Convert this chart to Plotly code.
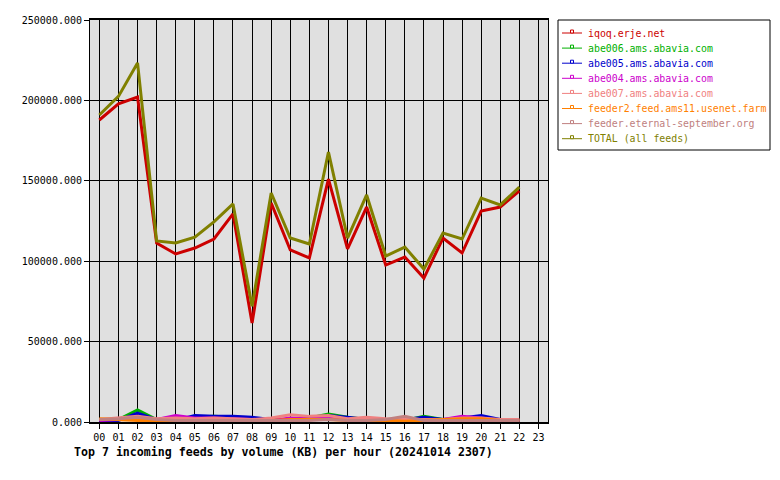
import plotly.graph_objects as go

hours = list(range(24))
hour_labels = ["%02d" % h for h in hours]
x = list(range(23))  # data hours 00..22

iqoq = [187800, 197800, 202100, 111300, 104500, 108200, 113800, 129400, 61500, 136200,
        107000, 102000, 151100, 107600, 133700, 97600, 102600, 89500, 114400, 105100,
        131200, 133700, 143700]
abe006 = [1500, 1500, 7500, 1500, 1000, 3000, 3500, 3000, 2000, 1000, 1500, 2500, 5000,
          3000, 1500, 1000, 1000, 3500, 1500, 1000, 1500, 1000, 500]
abe005 = [1000, 1000, 5500, 1500, 1000, 4000, 3500, 3500, 3000, 1500, 1000, 2000, 4000,
          3000, 1500, 1000, 1500, 3000, 1500, 2500, 4000, 1500, 500]
abe004 = [1000, 1500, 3000, 1500, 4000, 2500, 2500, 2000, 1500, 1000, 2500, 2000, 2500,
          1500, 1500, 1000, 1000, 1500, 1500, 3500, 2500, 1000, 500]
abe007 = [1500, 2500, 3500, 2000, 2500, 2000, 2500, 2000, 1500, 2500, 4500, 3500, 4000,
          2000, 3000, 2000, 1500, 1500, 1500, 2500, 2500, 1500, 1500]
feeder2 = [2000, 1500, 1000, 1000, 1000, 1000, 1000, 1000, 1000, 1000, 1500, 1500, 1500,
           1000, 1000, 1000, 500, 1000, 1500, 2000, 2000, 1000, 1000]
eternal = [1500, 2000, 3000, 1500, 1000, 1000, 1000, 1000, 1000, 1000, 1000, 1000, 1500,
           1000, 1000, 1500, 3500, 1000, 1000, 1000, 1000, 1000, 1000]
total = [190900, 202500, 223300, 112600, 111300, 115000, 124400, 135600, 72000, 142400,
         114400, 110700, 167900, 114400, 141200, 103200, 108800, 95100, 117500, 113800,
         139300, 135000, 146100]

names = ["iqoq.erje.net", "abe006.ams.abavia.com", "abe005.ams.abavia.com",
         "abe004.ams.abavia.com", "abe007.ams.abavia.com", "feeder2.feed.ams11.usenet.farm",
         "feeder.eternal-september.org", "TOTAL (all feeds)"]
colors = ["#cc0000", "#00b000", "#0000cc", "#cc00cc", "#f08080", "#ff8000", "#c08080", "#808000"]
values = [iqoq, abe006, abe005, abe004, abe007, feeder2, eternal, total]

MONO = "DejaVu Sans Mono"
W, H = 780, 480
L, R, T, B = 90, 232, 20, 58
PW, PH = W - L - R, H - T - B


def px(xp):
    return (xp - L) / PW


def py(yp):
    return (H - B - yp) / PH


fig = go.Figure()
for name, vals, col in zip(names, values, colors):
    fig.add_trace(go.Scatter(x=x, y=vals, name=name, mode="lines",
                             line=dict(color=col, width=3), showlegend=False))

fig.update_layout(
    width=W, height=H,
    margin=dict(l=L, r=R, t=T, b=B, pad=0, autoexpand=False),
    paper_bgcolor="white", plot_bgcolor="#e0e0e0",
    font=dict(family=MONO, size=10, color="black"),
    showlegend=False,
)
fig.update_xaxes(range=[-0.49, 23.5], tickmode="array", tickvals=hours, ticktext=hour_labels,
                 showgrid=True, gridcolor="black", gridwidth=1,
                 showline=True, linecolor="black", linewidth=2, mirror=True,
                 ticks="outside", ticklen=5, tickcolor="black", zeroline=False)
fig.update_yaxes(range=[0, 250000], dtick=50000, tick0=0, tickformat=".3f",
                 showgrid=True, gridcolor="black", gridwidth=1,
                 showline=True, linecolor="black", linewidth=1, mirror=True,
                 ticks="outside", ticklen=5, tickcolor="black", zeroline=False)

# Legend box (drawn as layout decorations, text kept as real text)
fig.add_shape(type="rect", xref="paper", yref="paper",
              x0=px(558), x1=px(770), y0=py(150), y1=py(20),
              line=dict(color="black", width=1), fillcolor="white", layer="above")
for i, (name, col) in enumerate(zip(names, colors)):
    yy = 33 + 15.1 * i
    fig.add_shape(type="line", xref="paper", yref="paper",
                  x0=px(562), x1=px(582), y0=py(yy), y1=py(yy),
                  line=dict(color=col, width=1), layer="above")
    fig.add_shape(type="rect", xref="paper", yref="paper",
                  x0=px(570.5), x1=px(573.5), y0=py(yy), y1=py(yy - 3),
                  line=dict(color=col, width=1), fillcolor="white", layer="above")
    fig.add_annotation(text=name, xref="paper", yref="paper", x=px(585.5), y=py(yy),
                       xanchor="left", yanchor="middle", showarrow=False,
                       font=dict(family=MONO, size=9.9, color=col))

fig.add_annotation(text="<b>Top 7 incoming feeds by volume (KB) per hour (20241014 2307)</b>",
                   xref="paper", yref="paper", x=px(283.5), y=py(452),
                   xanchor="center", yanchor="middle", showarrow=False,
                   font=dict(family=MONO, size=11.6, color="black"))

fig.write_html("out.html")
